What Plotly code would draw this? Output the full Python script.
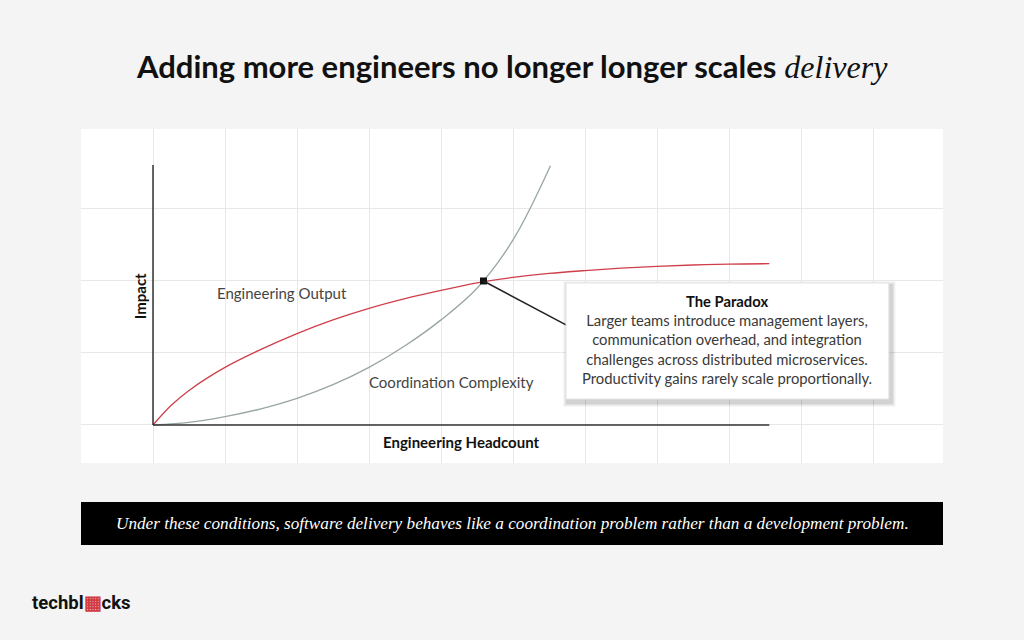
import plotly.graph_objects as go

# curve readings (x = headcount units, y = impact units)
output_x = [0, 0.25, 0.5, 1, 1.5, 2, 2.5, 3, 3.5, 4, 4.5, 5, 5.5, 6, 6.5, 7, 7.5, 8, 8.56]
output_y = [0, 0.27, 0.48, 0.80, 1.05, 1.27, 1.46, 1.62, 1.755, 1.87, 1.975, 2.05, 2.105,
            2.145, 2.178, 2.203, 2.222, 2.235, 2.24]

complexity_x = [0, 0.5, 1, 1.5, 2, 2.5, 3, 3.5, 4, 4.5, 5, 5.52]
complexity_y = [0, 0.035, 0.115, 0.225, 0.37, 0.56, 0.80, 1.10, 1.46, 1.90, 2.57, 3.6]

cross_x = [4.59]
cross_y = [2.0]

title_main = "Adding more engineers no longer longer scales"
title_em = "delivery"
banner_text = ("Under these conditions, software delivery behaves like a coordination "
               "problem rather than a development problem.")
box_title = "The Paradox"
box_lines = ["Larger teams introduce management layers,",
             "communication overhead, and integration",
             "challenges across distributed microservices.",
             "Productivity gains rarely scale proportionally."]

SANS = "Lato, 'Noto Sans', sans-serif"
SERIF = "Liberation Serif, DejaVu Serif, serif"
PX = 1 / 72  # one pixel in data units

fig = go.Figure()

fig.add_trace(go.Scatter(x=complexity_x, y=complexity_y, mode="lines",
                         line=dict(color="#98a6a2", width=1.3, shape="spline"),
                         hoverinfo="skip"))
fig.add_trace(go.Scatter(x=output_x, y=output_y, mode="lines",
                         line=dict(color="#cf3f4a", width=1.3, shape="spline"),
                         hoverinfo="skip"))

# axes drawn as lines
fig.add_shape(type="line", x0=0, y0=0, x1=0, y1=3.61, line=dict(color="#333", width=1.5))
fig.add_shape(type="line", x0=0, y0=0, x1=8.56, y1=0, line=dict(color="#333", width=1.5))

# connector from intersection to the callout
bx0, bx1, by0, by1 = 5.736, 10.22, 0.361, 1.972
fig.add_shape(type="line", x0=cross_x[0], y0=cross_y[0], x1=bx0, y1=1.39,
              line=dict(color="#222", width=1.5))
fig.add_trace(go.Scatter(x=cross_x, y=cross_y, mode="markers",
                         marker=dict(symbol="square", size=7, color="#111"),
                         hoverinfo="skip"))

# soft shadow then white box
for i, a in enumerate([0.03, 0.04, 0.05, 0.06]):
    g = (5 - i) * PX
    fig.add_shape(type="rect", x0=bx0 - g + 2 * PX, x1=bx1 + g + 2 * PX,
                  y0=by0 - g - 3 * PX, y1=by1 + g - 3 * PX,
                  line=dict(width=0), fillcolor=f"rgba(0,0,0,{a})")
fig.add_shape(type="rect", x0=bx0, x1=bx1, y0=by0, y1=by1,
              line=dict(color="#e4e4e4", width=1), fillcolor="white")

fig.add_annotation(x=(bx0 + bx1) / 2, y=1.194, xref="x", yref="y", showarrow=False,
                   text=f"<b style='color:#111'>{box_title}</b><br>" + "<br>".join(box_lines),
                   font=dict(family=SANS, size=14.8, color="#3a3a3a"), align="center")

# curve labels
fig.add_annotation(x=1.79, y=1.83, text="Engineering Output", showarrow=False,
                   font=dict(family=SANS, size=15, color="#444"))
fig.add_annotation(x=4.15, y=0.6, text="Coordination Complexity", showarrow=False,
                   font=dict(family=SANS, size=15, color="#444"))
fig.add_annotation(x=-0.18, y=1.79, text="<b>Impact</b>", showarrow=False, textangle=-90,
                   font=dict(family=SANS, size=15, color="#111"))
fig.add_annotation(x=4.29, y=-0.23, text="<b>Engineering Headcount</b>", showarrow=False,
                   font=dict(family=SANS, size=15, color="#111"))

# title
fig.add_annotation(xref="paper", yref="paper", x=0.5, y=1 + (129 - 66) / 334,
                   xanchor="center", yanchor="middle", showarrow=False,
                   text=f"<b>{title_main}</b> <span style=\"font-family:{SERIF};font-size:32px\"><i>{title_em}</i></span>",
                   font=dict(family=SANS, size=31, color="#111"))

# banner
fig.add_shape(type="rect", xref="paper", yref="paper", x0=0, x1=1,
              y0=-(545 - 463) / 334, y1=-(502 - 463) / 334,
              fillcolor="black", line=dict(width=0))
fig.add_annotation(xref="paper", yref="paper", x=0.5, y=-(523 - 463) / 334,
                   xanchor="center", yanchor="middle", showarrow=False,
                   text=f"<i>{banner_text}</i>",
                   font=dict(family=SERIF, size=17.2, color="white"))

# logo
fig.add_annotation(xref="paper", yref="paper", x=-(81 - 30) / 862, y=-(603 - 463) / 334,
                   xanchor="left", yanchor="middle", showarrow=False,
                   text="<b>techbl<span style='color:#d23b44'>▦</span>cks</b>",
                   font=dict(family="Roboto, sans-serif", size=18.5, color="#111"))

fig.update_layout(
    width=1024, height=640,
    margin=dict(l=81, r=81, t=129, b=177),
    paper_bgcolor="#f4f4f4", plot_bgcolor="white",
    showlegend=False,
    xaxis=dict(range=[-1, 10.972], tickvals=list(range(-1, 11)), showticklabels=False,
               showgrid=True, gridcolor="#e8e8e8", gridwidth=1, zeroline=False, fixedrange=True),
    yaxis=dict(range=[-0.528, 4.111], tickvals=[0, 1, 2, 3], showticklabels=False,
               showgrid=True, gridcolor="#e8e8e8", gridwidth=1, zeroline=False, fixedrange=True),
)

fig.write_html("out.html", config={"displayModeBar": False},
               post_script="document.body.style.margin='0';")
